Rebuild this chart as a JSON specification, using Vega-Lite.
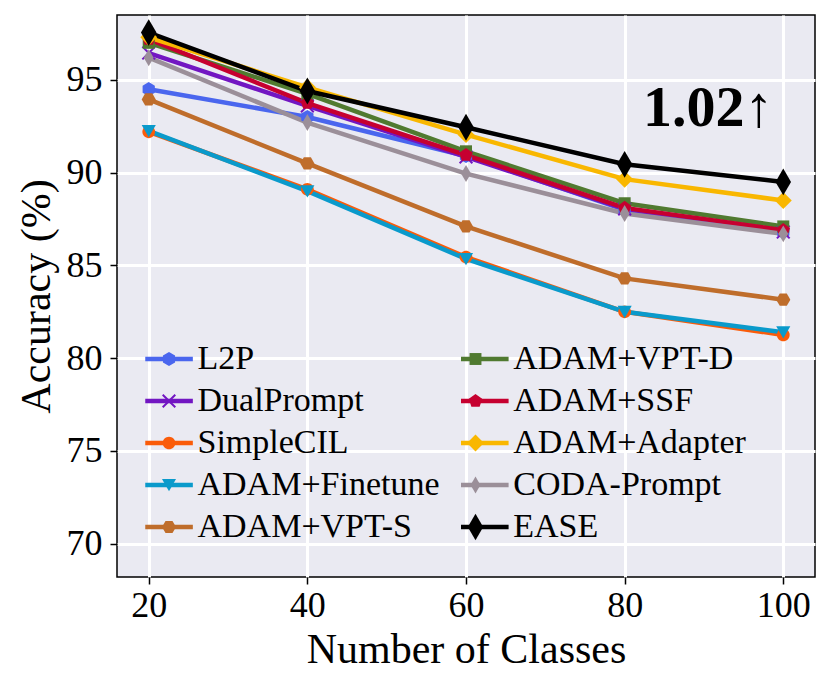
{
  "$schema": "https://vega.github.io/schema/vega-lite/v6.json",
  "width": 698,
  "height": 562,
  "autosize": {"type": "none"},
  "padding": {"left": 117, "top": 15, "right": 15, "bottom": 113},
  "background": "white",
  "config": {
    "font": "Liberation Serif",
    "view": {"fill": "#eaeaf2", "stroke": "black", "strokeWidth": 1.5},
    "axis": {
      "domain": false,
      "grid": true,
      "gridColor": "white",
      "gridWidth": 3,
      "gridOpacity": 1,
      "tickColor": "black",
      "tickSize": 7,
      "tickWidth": 1.5,
      "labelFont": "Liberation Serif",
      "labelFontSize": 36,
      "labelColor": "black",
      "titleFont": "Liberation Serif",
      "titleFontSize": 42,
      "titleFontWeight": "normal",
      "titleColor": "black"
    }
  },
  "layer": [
    {
      "data": {
        "values": [
          {"method": "L2P", "marker": "L2P ", "glyph": "L2P ", "classes": 20, "accuracy": 94.5},
          {"method": "L2P", "marker": "L2P ", "glyph": "L2P ", "classes": 40, "accuracy": 93.0},
          {"method": "L2P", "marker": "L2P ", "glyph": "L2P ", "classes": 60, "accuracy": 90.9},
          {"method": "L2P", "marker": "L2P ", "glyph": "L2P ", "classes": 80, "accuracy": 88.0},
          {"method": "L2P", "marker": "L2P ", "glyph": "L2P ", "classes": 100, "accuracy": 86.8},
          {"method": "DualPrompt", "marker": "DualPrompt ", "glyph": "DualPrompt ", "classes": 20, "accuracy": 96.45},
          {"method": "DualPrompt", "marker": "DualPrompt ", "glyph": "DualPrompt ", "classes": 40, "accuracy": 93.6},
          {"method": "DualPrompt", "marker": "DualPrompt ", "glyph": "DualPrompt ", "classes": 60, "accuracy": 90.85},
          {"method": "DualPrompt", "marker": "DualPrompt ", "glyph": "DualPrompt ", "classes": 80, "accuracy": 88.05},
          {"method": "DualPrompt", "marker": "DualPrompt ", "glyph": "DualPrompt ", "classes": 100, "accuracy": 86.8},
          {"method": "SimpleCIL", "marker": "SimpleCIL ", "glyph": "SimpleCIL ", "classes": 20, "accuracy": 92.2},
          {"method": "SimpleCIL", "marker": "SimpleCIL ", "glyph": "SimpleCIL ", "classes": 40, "accuracy": 89.1},
          {"method": "SimpleCIL", "marker": "SimpleCIL ", "glyph": "SimpleCIL ", "classes": 60, "accuracy": 85.45},
          {"method": "SimpleCIL", "marker": "SimpleCIL ", "glyph": "SimpleCIL ", "classes": 80, "accuracy": 82.5},
          {"method": "SimpleCIL", "marker": "SimpleCIL ", "glyph": "SimpleCIL ", "classes": 100, "accuracy": 81.25},
          {"method": "ADAM+Finetune", "marker": "ADAM+Finetune ", "glyph": "ADAM+Finetune ", "classes": 20, "accuracy": 92.25},
          {"method": "ADAM+Finetune", "marker": "ADAM+Finetune ", "glyph": "ADAM+Finetune ", "classes": 40, "accuracy": 89.0},
          {"method": "ADAM+Finetune", "marker": "ADAM+Finetune ", "glyph": "ADAM+Finetune ", "classes": 60, "accuracy": 85.35},
          {"method": "ADAM+Finetune", "marker": "ADAM+Finetune ", "glyph": "ADAM+Finetune ", "classes": 80, "accuracy": 82.5},
          {"method": "ADAM+Finetune", "marker": "ADAM+Finetune ", "glyph": "ADAM+Finetune ", "classes": 100, "accuracy": 81.4},
          {"method": "ADAM+VPT-S", "marker": "ADAM+VPT-S ", "glyph": "ADAM+VPT-S ", "classes": 20, "accuracy": 93.95},
          {"method": "ADAM+VPT-S", "marker": "ADAM+VPT-S ", "glyph": "ADAM+VPT-S ", "classes": 40, "accuracy": 90.5},
          {"method": "ADAM+VPT-S", "marker": "ADAM+VPT-S ", "glyph": "ADAM+VPT-S ", "classes": 60, "accuracy": 87.1},
          {"method": "ADAM+VPT-S", "marker": "ADAM+VPT-S ", "glyph": "ADAM+VPT-S ", "classes": 80, "accuracy": 84.3},
          {"method": "ADAM+VPT-S", "marker": "ADAM+VPT-S ", "glyph": "ADAM+VPT-S ", "classes": 100, "accuracy": 83.15},
          {"method": "ADAM+VPT-D", "marker": "ADAM+VPT-D ", "glyph": "ADAM+VPT-D ", "classes": 20, "accuracy": 97.0},
          {"method": "ADAM+VPT-D", "marker": "ADAM+VPT-D ", "glyph": "ADAM+VPT-D ", "classes": 40, "accuracy": 94.25},
          {"method": "ADAM+VPT-D", "marker": "ADAM+VPT-D ", "glyph": "ADAM+VPT-D ", "classes": 60, "accuracy": 91.15},
          {"method": "ADAM+VPT-D", "marker": "ADAM+VPT-D ", "glyph": "ADAM+VPT-D ", "classes": 80, "accuracy": 88.35},
          {"method": "ADAM+VPT-D", "marker": "ADAM+VPT-D ", "glyph": "ADAM+VPT-D ", "classes": 100, "accuracy": 87.1},
          {"method": "ADAM+SSF", "marker": "ADAM+SSF ", "glyph": "ADAM+SSF ", "classes": 20, "accuracy": 97.2},
          {"method": "ADAM+SSF", "marker": "ADAM+SSF ", "glyph": "ADAM+SSF ", "classes": 40, "accuracy": 93.75},
          {"method": "ADAM+SSF", "marker": "ADAM+SSF ", "glyph": "ADAM+SSF ", "classes": 60, "accuracy": 90.95},
          {"method": "ADAM+SSF", "marker": "ADAM+SSF ", "glyph": "ADAM+SSF ", "classes": 80, "accuracy": 88.1},
          {"method": "ADAM+SSF", "marker": "ADAM+SSF ", "glyph": "ADAM+SSF ", "classes": 100, "accuracy": 86.9},
          {"method": "ADAM+Adapter", "marker": "ADAM+Adapter ", "glyph": "ADAM+Adapter ", "classes": 20, "accuracy": 97.3},
          {"method": "ADAM+Adapter", "marker": "ADAM+Adapter ", "glyph": "ADAM+Adapter ", "classes": 40, "accuracy": 94.6},
          {"method": "ADAM+Adapter", "marker": "ADAM+Adapter ", "glyph": "ADAM+Adapter ", "classes": 60, "accuracy": 92.05},
          {"method": "ADAM+Adapter", "marker": "ADAM+Adapter ", "glyph": "ADAM+Adapter ", "classes": 80, "accuracy": 89.65},
          {"method": "ADAM+Adapter", "marker": "ADAM+Adapter ", "glyph": "ADAM+Adapter ", "classes": 100, "accuracy": 88.5},
          {"method": "CODA-Prompt", "marker": "CODA-Prompt ", "glyph": "CODA-Prompt ", "classes": 20, "accuracy": 96.2},
          {"method": "CODA-Prompt", "marker": "CODA-Prompt ", "glyph": "CODA-Prompt ", "classes": 40, "accuracy": 92.7},
          {"method": "CODA-Prompt", "marker": "CODA-Prompt ", "glyph": "CODA-Prompt ", "classes": 60, "accuracy": 89.95},
          {"method": "CODA-Prompt", "marker": "CODA-Prompt ", "glyph": "CODA-Prompt ", "classes": 80, "accuracy": 87.8},
          {"method": "CODA-Prompt", "marker": "CODA-Prompt ", "glyph": "CODA-Prompt ", "classes": 100, "accuracy": 86.7},
          {"method": "EASE", "marker": "EASE ", "glyph": "EASE ", "classes": 20, "accuracy": 97.55},
          {"method": "EASE", "marker": "EASE ", "glyph": "EASE ", "classes": 40, "accuracy": 94.4},
          {"method": "EASE", "marker": "EASE ", "glyph": "EASE ", "classes": 60, "accuracy": 92.45},
          {"method": "EASE", "marker": "EASE ", "glyph": "EASE ", "classes": 80, "accuracy": 90.45},
          {"method": "EASE", "marker": "EASE ", "glyph": "EASE ", "classes": 100, "accuracy": 89.5}
        ]
      },
      "encoding": {
        "x": {
          "field": "classes",
          "type": "quantitative",
          "scale": {"domain": [16, 104], "nice": false, "zero": false},
          "axis": {"values": [20, 40, 60, 80, 100], "labelPadding": 4, "title": "Number of Classes", "titlePadding": 6}
        },
        "y": {
          "field": "accuracy",
          "type": "quantitative",
          "scale": {"domain": [68.2, 98.5], "nice": false, "zero": false},
          "axis": {"values": [70, 75, 80, 85, 90, 95], "labelPadding": 8, "title": "Accuracy (%)", "titlePadding": 8}
        }
      },
      "layer": [
        {
          "mark": {"type": "line", "strokeWidth": 4.5},
          "encoding": {
            "stroke": {
              "field": "method",
              "type": "nominal",
              "scale": {
                "domain": ["L2P", "DualPrompt", "SimpleCIL", "ADAM+Finetune", "ADAM+VPT-S", "ADAM+VPT-D", "ADAM+SSF", "ADAM+Adapter", "CODA-Prompt", "EASE"],
                "range": ["#4a66ee", "#7216c2", "#fa5c0a", "#0a9acb", "#bf6d2b", "#507a30", "#c60030", "#f9b700", "#9b8f99", "#000000"]
              },
              "legend": {
                "title": null,
                "orient": "none",
                "legendX": 18.25,
                "legendY": 327,
                "zindex": 1,
                "columns": 2,
                "columnPadding": 10.75,
                "rowPadding": 8,
                "labelFont": "Liberation Serif",
                "labelFontSize": 34,
                "labelColor": "black",
                "labelLimit": 400,
                "labelOffset": 28.25,
                "symbolType": "M-1,0L5.8,0",
                "symbolSize": 196,
                "symbolStrokeWidth": 4.5,
                "symbolOpacity": 1
              }
            }
          }
        },
        {
          "mark": {"type": "point", "filled": true, "size": 200, "opacity": 1, "strokeWidth": 0},
          "encoding": {
            "color": {
              "field": "marker",
              "type": "nominal",
              "scale": {
                "domain": ["L2P ", "DualPrompt ", "SimpleCIL ", "ADAM+Finetune ", "ADAM+VPT-S ", "ADAM+VPT-D ", "ADAM+SSF ", "ADAM+Adapter ", "CODA-Prompt ", "EASE "],
                "range": ["#4a66ee", "#7216c2", "#fa5c0a", "#0a9acb", "#bf6d2b", "#507a30", "#c60030", "#f9b700", "#9b8f99", "#000000"]
              },
              "legend": {
                "title": null,
                "orient": "none",
                "legendX": 35,
                "legendY": 327,
                "zindex": 2,
                "columns": 2,
                "columnPadding": 7.5,
                "rowPadding": 8,
                "labelFont": "Liberation Serif",
                "labelFontSize": 34,
                "labelColor": "black",
                "labelOpacity": 0,
                "labelLimit": 400,
                "labelOffset": 22.5,
                "symbolSize": 196,
                "symbolStrokeWidth": 0,
                "symbolOpacity": 1
              }
            },
            "shape": {
              "field": "glyph",
              "type": "nominal",
              "scale": {
                "domain": ["L2P ", "DualPrompt ", "SimpleCIL ", "ADAM+Finetune ", "ADAM+VPT-S ", "ADAM+VPT-D ", "ADAM+SSF ", "ADAM+Adapter ", "CODA-Prompt ", "EASE "],
                "range": [
                  "M0,-1L0.866,-0.5L0.866,0.5L0,1L-0.866,0.5L-0.866,-0.5Z",
                  "M-1,-0.8L-0.8,-1L0,-0.2L0.8,-1L1,-0.8L0.2,0L1,0.8L0.8,1L0,0.2L-0.8,1L-1,0.8L-0.2,0Z",
                  "M0.9,0A0.9,0.9,0,1,1,-0.9,0A0.9,0.9,0,1,1,0.9,0Z",
                  "M-1,-0.85L1,-0.85L0,0.9Z",
                  "M-1,0L-0.5,-0.866L0.5,-0.866L1,0L0.5,0.866L-0.5,0.866Z",
                  "M-0.85,-0.85L0.85,-0.85L0.85,0.85L-0.85,0.85Z",
                  "M0,-1L0.951,-0.309L0.588,0.809L-0.588,0.809L-0.951,-0.309Z",
                  "M0,-1.2L1.2,0L0,1.2L-1.2,0Z",
                  "M0,-1.2L0.7,0L0,1.2L-0.7,0Z",
                  "M0,-1.9L1.1,0L0,1.9L-1.1,0Z"
                ]
              },
              "legend": null
            }
          }
        }
      ]
    },
    {
      "data": {"values": [{"classes": 90.55, "accuracy": 92.52, "label": "1.02↑"}]},
      "mark": {"type": "text", "font": "Liberation Serif", "fontSize": 58, "fontWeight": "bold", "align": "center", "baseline": "alphabetic", "color": "black"},
      "encoding": {
        "x": {"field": "classes", "type": "quantitative"},
        "y": {"field": "accuracy", "type": "quantitative"},
        "text": {"field": "label"}
      }
    }
  ]
}
